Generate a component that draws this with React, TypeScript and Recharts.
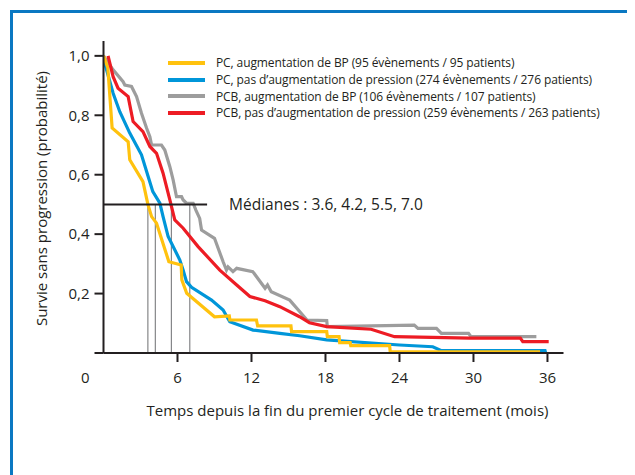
import React from 'react';
import { LineChart, Line, XAxis, YAxis, ReferenceLine, Legend } from 'recharts';

// Kaplan-Meier style curves (months, survival probability)
const pcBpMonths = [0, 0.35, 0.7, 2.0, 2.13, 3.2, 3.6, 3.9, 4.3, 5.3, 6.3, 6.35, 6.75, 9.0, 10.2, 10.25, 12.4, 12.5, 15.2, 15.25, 18.1, 18.15, 19.1, 19.15, 20.0, 20.05, 23.2, 23.25, 35.4];
const pcBpSurv = [1.0, 0.96, 0.757, 0.711, 0.65, 0.577, 0.5, 0.459, 0.437, 0.307, 0.296, 0.246, 0.201, 0.122, 0.125, 0.111, 0.111, 0.091, 0.091, 0.072, 0.072, 0.055, 0.055, 0.035, 0.035, 0.025, 0.025, 0.004, 0.004];

const pcNoBpMonths = [0, 0.78, 1.32, 2.13, 3.08, 3.62, 4.0, 4.57, 4.83, 5.24, 6.19, 6.46, 6.73, 7.14, 8.76, 9.7, 10.24, 12.13, 14.3, 15.9, 18.1, 24.0, 26.7, 27.4, 35.8, 35.85];
const pcNoBpSurv = [0.99, 0.874, 0.812, 0.74, 0.667, 0.594, 0.543, 0.504, 0.459, 0.392, 0.313, 0.279, 0.24, 0.221, 0.178, 0.145, 0.105, 0.077, 0.066, 0.058, 0.044, 0.027, 0.021, 0.008, 0.008, 0.0];

const pcbBpMonths = [0, 0.78, 1.59, 1.73, 2.27, 2.68, 3.08, 3.49, 3.76, 3.9, 4.7, 4.97, 5.38, 5.65, 5.92, 6.33, 6.46, 6.73, 7.27, 7.5, 7.8, 7.95, 9.0, 9.7, 9.97, 10.1, 10.5, 10.8, 12.1, 13.1, 13.3, 13.6, 15.1, 16.5, 18.1, 18.15, 25.2, 25.5, 27.0, 27.4, 29.6, 29.8, 35.1];
const pcbBpSurv = [1.0, 0.953, 0.913, 0.902, 0.897, 0.863, 0.807, 0.757, 0.728, 0.7, 0.7, 0.683, 0.627, 0.582, 0.526, 0.526, 0.515, 0.504, 0.504, 0.48, 0.453, 0.414, 0.386, 0.307, 0.279, 0.29, 0.274, 0.285, 0.274, 0.218, 0.229, 0.206, 0.178, 0.111, 0.109, 0.089, 0.094, 0.083, 0.083, 0.066, 0.066, 0.055, 0.055];

const pcbNoBpMonths = [0.37, 0.78, 1.18, 2.0, 2.4, 3.2, 3.76, 4.3, 4.83, 5.38, 5.78, 6.46, 7.67, 9.43, 10.8, 11.87, 13.1, 14.3, 15.9, 16.7, 18.1, 21.7, 23.6, 29.7, 33.8, 34.0, 36.1];
const pcbNoBpSurv = [1.0, 0.93, 0.891, 0.863, 0.779, 0.745, 0.695, 0.672, 0.605, 0.515, 0.448, 0.42, 0.358, 0.279, 0.229, 0.19, 0.176, 0.156, 0.122, 0.102, 0.089, 0.08, 0.055, 0.05, 0.05, 0.038, 0.038];

const seriesNames = [
  'PC, augmentation de BP (95 évènements / 95 patients)',
  'PC, pas d\u2019augmentation de pression (274 évènements / 276 patients)',
  'PCB, augmentation de BP (106 évènements / 107 patients)',
  'PCB, pas d\u2019augmentation de pression (259 évènements / 263 patients)',
];
const seriesColors = ['#ffc20e', '#0096d9', '#9d9d9d', '#ed1c24'];

const xTicks = [6, 12, 18, 24, 30, 36];
const yTicks = [0, 0.2, 0.4, 0.6, 0.8, 1.0];
const medians = [3.6, 4.2, 5.5, 7.0];
const medianLevel = 0.5;
const medianLineEnd = 8.4;
const medianText = 'Médianes : 3.6, 4.2, 5.5, 7.0';

const FONT = "'Open Sans', 'Noto Sans', sans-serif";
const INK = '#231f20';

const toPoints = (months: number[], surv: number[]) =>
  months.map((m, i) => ({ m, s: surv[i] }));

const series = [
  toPoints(pcBpMonths, pcBpSurv),
  toPoints(pcNoBpMonths, pcNoBpSurv),
  toPoints(pcbBpMonths, pcbBpSurv),
  toPoints(pcbNoBpMonths, pcbNoBpSurv),
];
// drawing order: gray, blue, yellow, red on top
const drawOrder = [2, 1, 0, 3];

function YTick(props: any) {
  const { x, y, payload } = props;
  const v = payload.value;
  const label = v === 0 ? '0' : v.toFixed(1).replace('.', ',');
  return (
    <text x={x} y={v === 0 ? y + 25 : y} dy="0.35em" textAnchor="end" fill={INK} fontSize={15} fontFamily={FONT}>
      {label}
    </text>
  );
}

function LegendBox() {
  return (
    <div style={{ fontFamily: FONT, fontSize: 12, color: INK, letterSpacing: -0.1 }}>
      {seriesNames.map((name, i) => (
        <div key={name} style={{ display: 'flex', alignItems: 'center', height: 16.7, whiteSpace: 'nowrap' }}>
          <span style={{ display: 'inline-block', width: 37, height: 4, background: seriesColors[i], marginRight: 11 }} />
          <span>{name}</span>
        </div>
      ))}
    </div>
  );
}

export default function App() {
  return (
    <div style={{ position: 'relative', width: 627, height: 467, overflow: 'hidden', background: '#fff' }}>
      <div
        style={{
          position: 'absolute',
          left: 2,
          top: 2,
          width: 700,
          height: 600,
          border: '3px solid #0a78c2',
        }}
      />
      <LineChart width={627} height={467} margin={{ top: 33, right: 71.5, bottom: 92, left: 35.5 }}>
        <XAxis
          dataKey="m"
          type="number"
          domain={[0, 37.3]}
          ticks={xTicks}
          allowDataOverflow
          stroke={INK}
          strokeWidth={2}
          tickSize={9}
          tickMargin={10}
          height={30}
          tick={{ fill: INK, fontSize: 15, fontFamily: FONT }}
          tickLine={{ stroke: INK, strokeWidth: 2 }}
          label={{
            content: (p: any) => (
              <text
                x={p.viewBox.x + p.viewBox.width / 2 + 14}
                y={p.viewBox.y + 58}
                textAnchor="middle"
                dy="0.35em"
                fill={INK}
                fontSize={15}
                fontFamily={FONT}
              >
                Temps depuis la fin du premier cycle de traitement (mois)
              </text>
            ),
          }}
        />
        <YAxis
          type="number"
          domain={[0, 1.05]}
          ticks={yTicks}
          interval={0}
          width={60}
          stroke={INK}
          strokeWidth={2}
          tickSize={9}
          tickMargin={5}
          tick={<YTick />}
          tickLine={{ stroke: INK, strokeWidth: 2 }}
          label={{
            content: (p: any) => {
              const cx = p.viewBox.x - 1.5;
              const cy = p.viewBox.y + p.viewBox.height / 2 + 1.5;
              return (
                <text
                  x={cx}
                  y={cy}
                  transform={`rotate(-90, ${cx}, ${cy})`}
                  textAnchor="middle"
                  dy="0.35em"
                  fill={INK}
                  fontSize={15}
                  fontFamily={FONT}
                >
                  Survie sans progression (probabilité)
                </text>
              );
            },
          }}
        />
        {medians.map((m) => (
          <ReferenceLine
            key={m}
            segment={[{ x: m, y: 0 }, { x: m, y: medianLevel }]}
            stroke="#6d6e71"
            strokeWidth={1}
          />
        ))}
        {drawOrder.map((i) => (
          <Line
            key={seriesNames[i]}
            data={series[i]}
            dataKey="s"
            name={seriesNames[i]}
            type="linear"
            stroke={seriesColors[i]}
            strokeWidth={3.2}
            dot={false}
            activeDot={false}
            isAnimationActive={false}
          />
        ))}
        <ReferenceLine
          segment={[{ x: 0, y: medianLevel }, { x: medianLineEnd, y: medianLevel }]}
          stroke={INK}
          strokeWidth={2}
          label={{
            content: (p: any) => (
              <text
                x={p.viewBox.x + p.viewBox.width + 22}
                y={p.viewBox.y}
                dy="0.35em"
                fill={INK}
                fontSize={15.5}
                fontFamily={FONT}
              >
                {medianText}
              </text>
            ),
          }}
        />
        <Legend
          layout="vertical"
          align="center"
          verticalAlign="middle"
          content={() => <LegendBox />}
          wrapperStyle={{ left: 160, top: 46.5, width: 460 }}
        />
      </LineChart>
    </div>
  );
}
